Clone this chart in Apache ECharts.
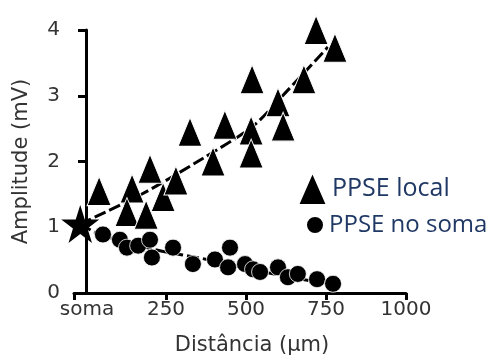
<!DOCTYPE html>
<html>
<head>
<meta charset="utf-8">
<script src="https://cdn.jsdelivr.net/npm/echarts@6/dist/echarts.min.js"></script>
<style>
  html, body { margin: 0; padding: 0; background: #fff; }
  #chart { width: 501px; height: 361px; }
</style>
</head>
<body>
<div id="chart"></div>
<script>
// tick values of the distance axis, the soma sits a bit left of 0
const xTickValues = [-37.5, 250, 500, 750, 1000];
const xTickLabels = ['soma', '250', '500', '750', '1000'];

// PPSE local (triangles), [distance um, amplitude mV]
const localPoints = [
    [41, 1.55], [144, 1.59], [128, 1.23], [188, 1.19], [200, 1.89],
    [241, 1.46], [281, 1.71], [325, 2.45], [397, 2.0], [434, 2.56],
    [516, 2.47], [516, 2.12], [519, 3.25], [600, 2.90], [616, 2.53],
    [681, 3.25], [719, 4.0], [778, 3.73]
];

// PPSE no soma (circles)
const somaPoints = [
    [53, 0.89], [106, 0.81], [128, 0.69], [163, 0.72], [200, 0.81],
    [206, 0.54], [272, 0.69], [334, 0.44], [403, 0.51], [450, 0.69],
    [444, 0.39], [497, 0.44], [522, 0.36], [544, 0.32], [600, 0.39],
    [631, 0.24], [662, 0.29], [722, 0.21], [772, 0.14]
];

// star at the soma
const starPoint = [[-18, 1.05]];

// dashed fit curves
const localFit = [[-18, 1.05], [169, 1.49], [366, 2.05], [522, 2.54], [628, 3.07], [756, 3.74]];
const somaFit = [[-18, 1.05], [44, 0.89], [216, 0.66], [378, 0.51], [544, 0.33], [772, 0.12]];

const starPath = 'path://M50,2 L61.8,38 L99.5,38 L69,60.2 L80.6,96 L50,74 L19.4,96 L31,60.2 L0.5,38 L38.2,38 Z';

const axisFont = 'DejaVu Sans';
const legendFont = 'Open Sans';
const legendColor = '#203864';

const myChart = echarts.init(document.getElementById('chart'), null, {renderer: 'canvas'});

const option = {
    backgroundColor: '#fff',
    animation: false,
    grid: {left: 74, right: 95, top: 30, bottom: 65},
    xAxis: {
        type: 'value',
        min: -37.5,
        max: 1000,
        name: 'Distância (µm)',
        nameLocation: 'middle',
        nameGap: 42,
        nameTextStyle: {fontFamily: axisFont, fontSize: 21, color: '#333', padding: [0, 0, 0, 24]},
        splitLine: {show: false},
        axisLine: {lineStyle: {color: '#000', width: 3}},
        axisTick: {customValues: xTickValues, length: 7, lineStyle: {color: '#000', width: 3}},
        axisLabel: {
            customValues: xTickValues,
            margin: 7,
            fontFamily: axisFont,
            fontSize: 20,
            color: '#333',
            formatter: function (v) {
                const i = xTickValues.indexOf(v);
                const t = i >= 0 ? xTickLabels[i] : '';
                return i === 0 ? '{s|' + t + '}' : t;
            },
            rich: {s: {fontFamily: axisFont, fontSize: 20, color: '#333', padding: [0, 0, 0, 26]}}
        }
    },
    yAxis: {
        type: 'value',
        min: 0,
        max: 4,
        interval: 1,
        name: 'Amplitude (mV)',
        nameLocation: 'middle',
        nameGap: 42,
        nameTextStyle: {fontFamily: axisFont, fontSize: 21, color: '#333'},
        splitLine: {show: false},
        axisLine: {show: true, lineStyle: {color: '#000', width: 3}},
        axisTick: {show: true, length: 8, lineStyle: {color: '#000', width: 3}},
        axisLabel: {margin: 14, fontFamily: axisFont, fontSize: 20, color: '#333'}
    },
    legend: [
        {
            data: ['PPSE local'],
            icon: 'triangle',
            left: 297, top: 171, padding: 0,
            itemWidth: 29, itemHeight: 33,
            textStyle: {fontFamily: legendFont, fontSize: 25, color: legendColor}
        },
        {
            data: ['PPSE no soma'],
            icon: 'circle',
            left: 305, top: 213, padding: 0,
            itemWidth: 18, itemHeight: 18,
            textStyle: {fontFamily: legendFont, fontSize: 24, color: legendColor}
        }
    ],
    series: [
        {
            name: 'fitLocal', type: 'line', data: localFit, showSymbol: false, smooth: 0.3,
            lineStyle: {color: '#000', width: 3, type: [12, 4]}, z: 1
        },
        {
            name: 'fitSoma', type: 'line', data: somaFit, showSymbol: false, smooth: 0.3,
            lineStyle: {color: '#000', width: 3, type: [12, 4]}, z: 1
        },
        {
            name: 'PPSE no soma', type: 'scatter', data: somaPoints, symbol: 'circle', symbolSize: 17,
            itemStyle: {color: '#000', borderColor: '#fff', borderWidth: 0.8, opacity: 1}, z: 2
        },
        {
            name: 'PPSE local', type: 'scatter', data: localPoints, symbol: 'triangle', symbolSize: [24, 29],
            itemStyle: {color: '#000', borderColor: '#fff', borderWidth: 1, opacity: 1}, z: 3
        },
        {
            name: 'soma', type: 'scatter', data: starPoint, symbol: starPath, symbolSize: 38,
            itemStyle: {color: '#000', opacity: 1}, z: 4
        }
    ]
};

myChart.setOption(option);
</script>
</body>
</html>
